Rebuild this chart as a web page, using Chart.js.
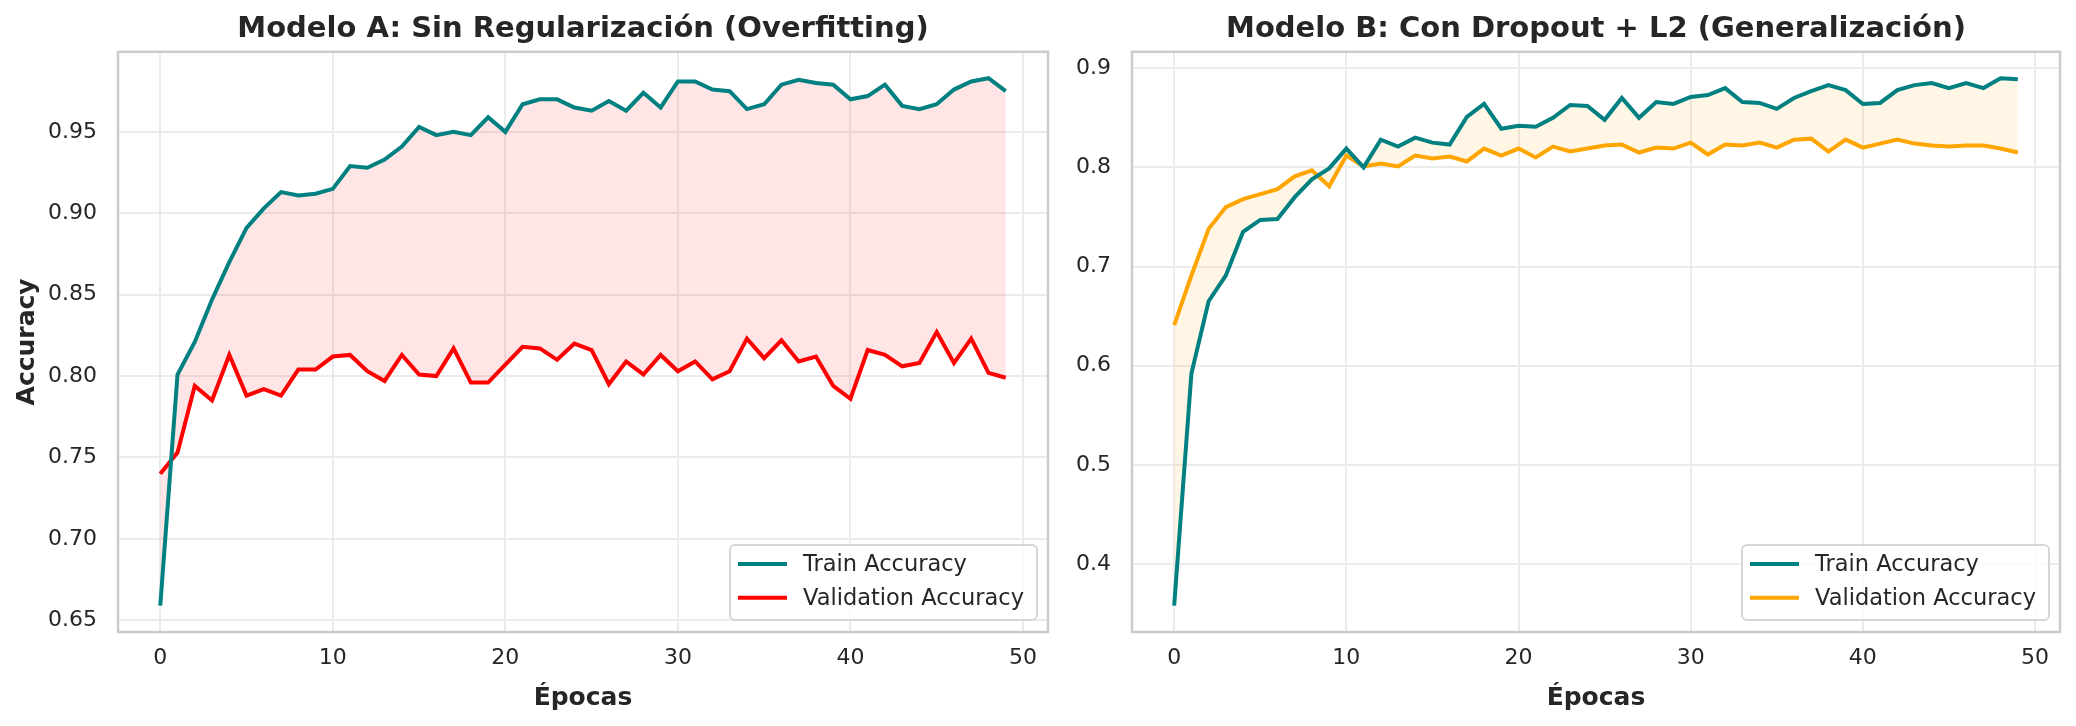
<!DOCTYPE html>
<html>
<head>
<meta charset="utf-8">
<script src="https://cdn.jsdelivr.net/npm/chart.js@4.4.1/dist/chart.umd.min.js"></script>
<style>
  html, body { margin: 0; padding: 0; background: #ffffff; }
  #wrap { position: relative; width: 2076px; height: 726px; }
  #chartA { position: absolute; left: 0; top: 0; }
  #chartB { position: absolute; left: 1066px; top: 0; }
</style>
</head>
<body>
<div id="wrap">
  <canvas id="chartA" width="1066" height="726"></canvas>
  <canvas id="chartB" width="1010" height="726"></canvas>
</div>
<script>
// épocas
const epochs = [0, 1, 2, 3, 4, 5, 6, 7, 8, 9, 10, 11, 12, 13, 14, 15, 16, 17, 18, 19,
  20, 21, 22, 23, 24, 25, 26, 27, 28, 29, 30, 31, 32, 33, 34, 35, 36, 37, 38, 39,
  40, 41, 42, 43, 44, 45, 46, 47, 48, 49];

// Modelo A: sin regularización
const trainA = [0.659, 0.801, 0.821, 0.847, 0.870, 0.891, 0.903, 0.913, 0.911, 0.912,
  0.915, 0.929, 0.928, 0.933, 0.941, 0.953, 0.948, 0.950, 0.948, 0.959,
  0.950, 0.967, 0.970, 0.970, 0.965, 0.963, 0.969, 0.963, 0.974, 0.965,
  0.981, 0.981, 0.976, 0.975, 0.964, 0.967, 0.979, 0.982, 0.980, 0.979,
  0.970, 0.972, 0.979, 0.966, 0.964, 0.967, 0.976, 0.981, 0.983, 0.975];
const valA = [0.740, 0.753, 0.794, 0.785, 0.813, 0.788, 0.792, 0.788, 0.804, 0.804,
  0.812, 0.813, 0.803, 0.797, 0.813, 0.801, 0.800, 0.817, 0.796, 0.796,
  0.807, 0.818, 0.817, 0.810, 0.820, 0.816, 0.795, 0.809, 0.801, 0.813,
  0.803, 0.809, 0.798, 0.803, 0.823, 0.811, 0.822, 0.809, 0.812, 0.794,
  0.786, 0.816, 0.813, 0.806, 0.808, 0.827, 0.808, 0.823, 0.802, 0.799];

// Modelo B: dropout + L2
const trainB = [0.358, 0.592, 0.665, 0.691, 0.735, 0.747, 0.748, 0.770, 0.788, 0.799,
  0.819, 0.800, 0.828, 0.821, 0.830, 0.825, 0.823, 0.851, 0.864, 0.839,
  0.842, 0.841, 0.850, 0.863, 0.862, 0.848, 0.870, 0.850, 0.866, 0.864,
  0.871, 0.873, 0.880, 0.866, 0.865, 0.859, 0.870, 0.877, 0.883, 0.878,
  0.864, 0.865, 0.878, 0.883, 0.885, 0.880, 0.885, 0.880, 0.890, 0.889];
const valB = [0.641, 0.691, 0.738, 0.760, 0.768, 0.773, 0.778, 0.791, 0.797, 0.781,
  0.812, 0.801, 0.804, 0.801, 0.812, 0.809, 0.811, 0.806, 0.819, 0.812,
  0.819, 0.810, 0.821, 0.816, 0.819, 0.822, 0.823, 0.815, 0.820, 0.819,
  0.825, 0.813, 0.823, 0.822, 0.825, 0.820, 0.828, 0.829, 0.816, 0.828,
  0.820, 0.824, 0.828, 0.824, 0.822, 0.821, 0.822, 0.822, 0.819, 0.815];

// ticks
const xTicks = [0, 10, 20, 30, 40, 50];
const yTicksA = [0.65, 0.70, 0.75, 0.80, 0.85, 0.90, 0.95];
const yTicksB = [0.4, 0.5, 0.6, 0.7, 0.8, 0.9];

const TEXT = '#262626';
Chart.defaults.font.family = "'DejaVu Sans', sans-serif";
Chart.defaults.color = TEXT;

// rango con margen del 5% (como matplotlib)
function padRange(values) {
  const lo = Math.min(...values), hi = Math.max(...values);
  const m = (hi - lo) * 0.05;
  return [lo - m, hi + m];
}

function toPoints(ys) {
  return ys.map((y, i) => ({ x: epochs[i], y: y }));
}

// marco gris + leyenda dentro del área (abajo a la derecha)
const frameLegend = {
  id: 'frameLegend',
  afterDraw(chart) {
    const { ctx, chartArea: a } = chart;
    ctx.save();
    ctx.strokeStyle = '#cccccc';
    ctx.lineWidth = 2.5;
    ctx.strokeRect(a.left, a.top, a.right - a.left, a.bottom - a.top);

    const w = 307, h = 75;
    const bx = a.right - 11 - w, by = a.bottom - 12 - h;
    ctx.beginPath();
    ctx.roundRect(bx, by, w, h, 5);
    ctx.fillStyle = 'rgba(255,255,255,0.8)';
    ctx.fill();
    ctx.strokeStyle = '#d6d6d6';
    ctx.lineWidth = 2;
    ctx.stroke();

    ctx.font = "22.5px 'DejaVu Sans', sans-serif";
    ctx.textBaseline = 'middle';
    ctx.textAlign = 'left';
    chart.data.datasets.forEach((ds, i) => {
      const ly = by + 19 + i * 33.7;
      ctx.beginPath();
      ctx.moveTo(bx + 8, ly);
      ctx.lineTo(bx + 57, ly);
      ctx.strokeStyle = ds.borderColor;
      ctx.lineWidth = ds.borderWidth;
      ctx.stroke();
      ctx.fillStyle = TEXT;
      ctx.fillText(ds.label, bx + 73, ly + 1);
    });
    ctx.restore();
  }
};

function makeChart(id, title, train, val, valColor, fillColor, yTicks, yDecimals, yWidth, yTitle, padRight) {
  const [xmin, xmax] = padRange(epochs);
  const [ymin, ymax] = padRange(train.concat(val));
  return new Chart(document.getElementById(id), {
    type: 'line',
    data: {
      datasets: [{
        label: 'Train Accuracy',
        data: toPoints(train),
        borderColor: '#008080',
        borderWidth: 4,
        pointRadius: 0,
        tension: 0,
        fill: { target: '+1', above: fillColor, below: fillColor },
        order: 1
      }, {
        label: 'Validation Accuracy',
        data: toPoints(val),
        borderColor: valColor,
        borderWidth: 4,
        pointRadius: 0,
        tension: 0,
        fill: false,
        order: 2
      }]
    },
    options: {
      responsive: false,
      animation: false,
      layout: { padding: { left: 0, right: padRight, top: 0, bottom: 0 } },
      plugins: {
        legend: { display: false },
        tooltip: { enabled: false },
        title: {
          display: true,
          text: title,
          color: TEXT,
          fullSize: false, // centrado sobre el área del gráfico
          font: { size: 29, weight: 'bold' },
          padding: { top: 12, bottom: 5 }
        }
      },
      scales: {
        x: {
          type: 'linear',
          min: xmin,
          max: xmax,
          afterBuildTicks: s => { s.ticks = xTicks.map(v => ({ value: v })); },
          afterFit: s => { s.height = 94; },
          grid: { color: '#ebebeb', lineWidth: 2, drawTicks: false },
          border: { display: false },
          ticks: {
            padding: 13,
            font: { size: 22 },
            color: TEXT,
            maxRotation: 0,
            callback: v => String(v)
          },
          title: {
            display: true,
            text: 'Épocas',
            color: TEXT,
            font: { size: 25, weight: 'bold' },
            padding: { top: 0, bottom: 13 }
          }
        },
        y: {
          min: ymin,
          max: ymax,
          afterBuildTicks: s => { s.ticks = yTicks.map(v => ({ value: v })); },
          afterFit: s => { s.width = yWidth; },
          grid: { color: '#ebebeb', lineWidth: 2, drawTicks: false },
          border: { display: false },
          ticks: {
            padding: 21,
            font: { size: 22 },
            color: TEXT,
            callback: v => Number(v).toFixed(yDecimals)
          },
          title: {
            display: !!yTitle,
            text: yTitle || '',
            color: TEXT,
            font: { size: 25, weight: 'bold' },
            padding: { top: 12, bottom: 0 }
          }
        }
      }
    },
    plugins: [frameLegend]
  });
}

makeChart('chartA', 'Modelo A: Sin Regularización (Overfitting)', trainA, valA,
  '#ff0000', 'rgba(255,0,0,0.1)', yTicksA, 2, 118, 'Accuracy', 18);
makeChart('chartB', 'Modelo B: Con Dropout + L2 (Generalización)', trainB, valB,
  '#ffa500', 'rgba(255,165,0,0.1)', yTicksB, 1, 66, null, 16);
</script>
</body>
</html>
